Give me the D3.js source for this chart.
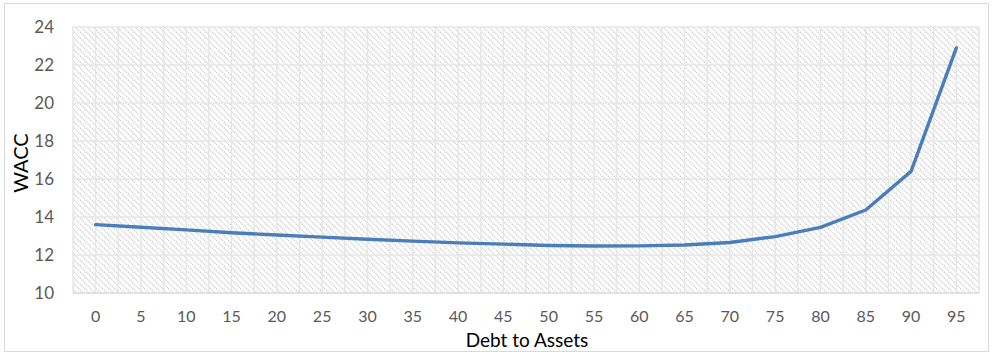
<!DOCTYPE html>
<html><head><meta charset="utf-8">
<script src="https://cdn.jsdelivr.net/npm/d3@7"></script>
<style>
html,body{margin:0;padding:0;background:#fff;}
svg{display:block;font-family:Lato,"Open Sans",sans-serif;}
</style></head>
<body>
<svg id="chart" width="992" height="354"></svg>
<script>
const categories = [0,5,10,15,20,25,30,35,40,45,50,55,60,65,70,75,80,85,90,95];
const wacc = [13.6,13.46,13.32,13.17,13.05,12.94,12.83,12.73,12.64,12.57,12.5,12.47,12.48,12.53,12.66,12.97,13.45,14.37,16.4,22.9];
const yTicks = [10,12,14,16,18,20,22,24];
const xTitle = "Debt to Assets";
const yTitle = "WACC";

const svg = d3.select("#chart");
const W = 992, H = 354;
const m = {left:73, right:979, top:27, bottom:293};

svg.append("rect").attr("x",4.5).attr("y",3.5).attr("width",W-8).attr("height",H-6)
  .attr("fill","#fff").attr("stroke","#d9d9d9").attr("stroke-width",1);

const defs = svg.append("defs");
const pat = defs.append("pattern").attr("id","hatch").attr("patternUnits","userSpaceOnUse")
  .attr("width",6).attr("height",6);
pat.append("rect").attr("width",6).attr("height",6).attr("fill","#fff");
pat.append("path").attr("d","M0,0 L6,6 M-3,3 L3,9 M3,-3 L9,3")
  .attr("stroke","#cfcfcf").attr("stroke-width",1.3).attr("stroke-dasharray","1.5,1");

const x = d3.scaleBand().domain(categories).range([m.left, m.right]);
const y = d3.scaleLinear().domain([10,24]).range([m.bottom, m.top]);

svg.append("rect").attr("x",m.left).attr("y",m.top).attr("width",m.right-m.left)
  .attr("height",m.bottom-m.top).attr("fill","url(#hatch)");

// vertical gridlines: category boundaries and centres
const g = svg.append("g");
categories.forEach((c,i)=>{
  const x0 = x(c), xc = x(c)+x.bandwidth()/2;
  [x0, xc].forEach(xx=>{
    g.append("line").attr("x1",xx).attr("x2",xx).attr("y1",m.top).attr("y2",m.bottom)
      .attr("stroke","#e6e6e6").attr("stroke-width",1.5);
  });
});
g.append("line").attr("x1",m.right).attr("x2",m.right).attr("y1",m.top).attr("y2",m.bottom)
  .attr("stroke","#e6e6e6").attr("stroke-width",1.5);
yTicks.forEach(t=>{
  g.append("line").attr("x1",m.left).attr("x2",m.right).attr("y1",y(t)).attr("y2",y(t))
    .attr("stroke", t===10 ? "#d9d9d9" : "#e6e6e6").attr("stroke-width",1.5);
});

// y tick labels
const yAxis = svg.append("g").attr("transform",`translate(${m.left},0)`)
  .call(d3.axisLeft(y).tickValues(yTicks).tickSize(0).tickPadding(19));
yAxis.select(".domain").remove();
yAxis.selectAll("text").attr("font-size",17).attr("fill","#595959").attr("font-family","Lato,sans-serif");

// x tick labels
const xAxis = svg.append("g").attr("transform",`translate(0,${m.bottom})`)
  .call(d3.axisBottom(x).tickSize(0).tickPadding(18));
xAxis.select(".domain").remove();
xAxis.selectAll("text").attr("font-size",16).attr("fill","#595959").attr("font-family","Lato,sans-serif");

// line
const line = d3.line().x((d,i)=>x(categories[i])+x.bandwidth()/2).y(d=>y(d));
svg.append("path").datum(wacc).attr("d",line).attr("fill","none")
  .attr("stroke","#4a7ebb").attr("stroke-width",3.4).attr("stroke-linejoin","round").attr("stroke-linecap","round");

// titles
svg.append("text").attr("x",527).attr("y",347).attr("text-anchor","middle")
  .attr("font-size",19).attr("fill","#000").text(xTitle);
svg.append("text").attr("transform","translate(28,163) rotate(-90)").attr("text-anchor","middle")
  .attr("font-size",20).attr("fill","#000").text(yTitle);
</script>
</body></html>
